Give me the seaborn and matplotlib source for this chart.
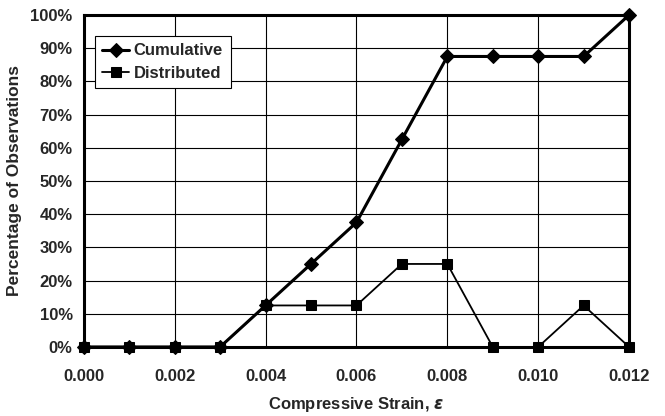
import pandas as pd
import matplotlib.pyplot as plt
import seaborn as sns
from matplotlib.ticker import PercentFormatter

# Values
strain = [0.000, 0.001, 0.002, 0.003, 0.004, 0.005, 0.006, 0.007, 0.008, 0.009, 0.010, 0.011, 0.012]
cumulative = [0, 0, 0, 0, 12.5, 25, 37.5, 62.5, 87.5, 87.5, 87.5, 87.5, 100]
distributed = [0, 0, 0, 0, 12.5, 12.5, 12.5, 25, 25, 0, 0, 12.5, 0]

df = pd.DataFrame({'Strain': strain, 'Cumulative': cumulative, 'Distributed': distributed})

sns.set_style('white')
plt.rcParams['font.family'] = ['Liberation Sans', 'DejaVu Sans']
plt.rcParams['font.weight'] = 'bold'

fig = plt.figure(figsize=(6.65, 4.16), dpi=100)
ax = fig.add_axes([0.126, 0.166, 0.82, 0.798])

sns.lineplot(x='Strain', y='Distributed', data=df, ax=ax, color='black', lw=1.3,
             marker='s', markersize=7, markeredgecolor='black', label='Distributed',
             zorder=3, clip_on=False)
sns.lineplot(x='Strain', y='Cumulative', data=df, ax=ax, color='black', lw=2.2,
             marker='D', markersize=7, markeredgecolor='black', label='Cumulative',
             zorder=4, clip_on=False)

ax.set_xlim(0, 0.012)
ax.set_ylim(0, 100)
ax.set_xticks([0, 0.002, 0.004, 0.006, 0.008, 0.010, 0.012])
ax.set_xticklabels(['0.000', '0.002', '0.004', '0.006', '0.008', '0.010', '0.012'])
ax.set_yticks(range(0, 101, 10))
ax.yaxis.set_major_formatter(PercentFormatter(decimals=0))
ax.grid(True, color='black', lw=0.8)
for s in ax.spines.values():
    s.set_linewidth(2.2)
    s.set_color('black')
ax.tick_params(axis='both', labelsize=12, length=4, width=1, color='black', direction='out', pad=4)
ax.tick_params(axis='x', pad=12)
ax.set_xlabel(r'Compressive Strain, $\varepsilon$', fontsize=12, fontweight='bold', labelpad=8)
ax.set_ylabel('Percentage of Observations', fontsize=12.5, fontweight='bold', labelpad=6)

handles, labels = ax.get_legend_handles_labels()
leg = ax.legend(handles[::-1], labels[::-1], loc='upper left', bbox_to_anchor=(0.02, 0.937),
                fancybox=False, framealpha=1, edgecolor='black', fontsize=12,
                handlelength=1.6, handletextpad=0.3, borderpad=0.45, labelspacing=0.45,
                borderaxespad=0)
leg.get_frame().set_linewidth(0.8)

fig.savefig('out.png', dpi=100)
